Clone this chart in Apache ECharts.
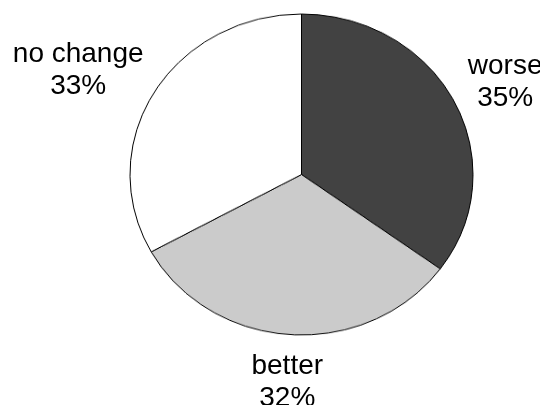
<!DOCTYPE html>
<html>
<head>
<meta charset="utf-8">
<script src="https://cdn.jsdelivr.net/npm/echarts@6/dist/echarts.min.js"></script>
<style>
  html, body { margin: 0; padding: 0; background: #ffffff; }
  #wrap { position: relative; width: 540px; height: 405px; overflow: hidden; background: #ffffff; }
  .layer { position: absolute; left: 0; top: 0; width: 540px; height: 405px; }
</style>
</head>
<body>
<div id="wrap">
  <div id="pie" class="layer"></div>
  <div id="labels" class="layer"></div>
</div>
<script>
// Survey answers
const categories = ['worse', 'better', 'no change'];
const shares = [35, 32, 33];
const sliceColors = ['#424242', '#cbcbcb', '#ffffff'];

// Pie geometry: the pie is drawn slightly flattened (elliptical)
const CX = 301.5, CY = 174.5, RX = 171.5, RY = 160.5;
const LABEL_GAP = 16;

const data = categories.map((name, i) => ({ name: name, value: shares[i] }));
const total = shares.reduce((a, b) => a + b, 0);

// Sector layer, squashed vertically to give the elliptical outline
const pieEl = document.getElementById('pie');
pieEl.style.transformOrigin = '0 ' + CY + 'px';
pieEl.style.transform = 'scaleY(' + (RY / RX) + ')';

const pieChart = echarts.init(pieEl, null, { renderer: 'canvas' });
pieChart.setOption({
  animation: false,
  backgroundColor: 'transparent',
  series: [{
    type: 'pie',
    center: [CX, CY],
    radius: RX,
    startAngle: 90,
    clockwise: true,
    silent: true,
    label: { show: false },
    labelLine: { show: false },
    itemStyle: {
      color: (p) => sliceColors[p.dataIndex],
      borderColor: '#000000',
      borderWidth: 1
    },
    data: data
  }]
});

// Label layer: labels placed just outside the ellipse at each slice's mid-angle
function midAngle(i) {
  let acc = 0;
  for (let k = 0; k < i; k++) acc += shares[k];
  return ((acc + shares[i] / 2) / total) * Math.PI * 2; // clockwise from top
}

const labelChart = echarts.init(document.getElementById('labels'), null, { renderer: 'canvas' });
labelChart.setOption({
  animation: false,
  backgroundColor: 'transparent',
  series: [{
    type: 'pie',
    center: [CX, CY],
    radius: RX,
    startAngle: 90,
    clockwise: true,
    silent: true,
    avoidLabelOverlap: false,
    itemStyle: { color: 'rgba(0,0,0,0)', borderWidth: 0 },
    label: {
      show: true,
      position: 'outside',
      formatter: '{b}\n{c}%',
      fontFamily: '"Liberation Sans", Arial, sans-serif',
      fontSize: 28,
      lineHeight: 32,
      color: '#000000',
      align: 'center',
      overflow: 'none',
      edgeDistance: 0
    },
    labelLine: { show: false },
    labelLayout: function (p) {
      const a = midAngle(p.dataIndex);
      const s = Math.sin(a), c = Math.cos(a);
      const w = p.labelRect.width, h = p.labelRect.height;
      const ex = CX + RX * s + LABEL_GAP * s;
      const ey = CY - RY * c - LABEL_GAP * c;
      return {
        x: ex + 1.1 * (w / 2) * s,
        y: ey - (h / 2) * c + (c > 0 ? 2 : 0),
        align: 'center',
        verticalAlign: 'middle'
      };
    },
    data: data
  }]
});
</script>
</body>
</html>
